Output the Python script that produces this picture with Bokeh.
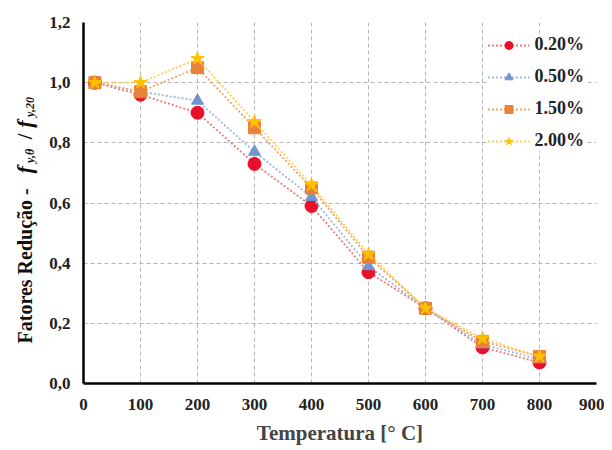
from bokeh.plotting import figure
from bokeh.layouts import row
from bokeh.models import Range1d, CustomJSTickFormatter, FixedTicker, Legend, LegendItem
from bokeh.core.properties import value
from bokeh.embed import file_html
from bokeh.resources import INLINE

temps = [20, 100, 200, 300, 400, 500, 600, 700, 800]
s020 = [1.00, 0.96, 0.90, 0.73, 0.59, 0.37, 0.25, 0.12, 0.07]
s050 = [1.00, 0.97, 0.94, 0.77, 0.62, 0.39, 0.25, 0.13, 0.08]
s150 = [1.00, 0.97, 1.05, 0.85, 0.65, 0.42, 0.25, 0.14, 0.09]
s200 = [1.00, 1.00, 1.08, 0.87, 0.66, 0.43, 0.25, 0.15, 0.09]
names = ["0.20%", "0.50%", "1.50%", "2.00%"]
x_ticks = [0, 100, 200, 300, 400, 500, 600, 700, 800, 900]
y_ticks = [0.0, 0.2, 0.4, 0.6, 0.8, 1.0, 1.2]

FONT = "'Liberation Serif', 'Times New Roman', serif"
LBL_W = 46

p = figure(width=604 - LBL_W, height=448, output_backend="svg", toolbar_location=None,
           x_range=Range1d(0, 900), y_range=Range1d(0, 1.2),
           min_border_left=83 - LBL_W, min_border_right=8, min_border_top=22, min_border_bottom=65)
p.outline_line_color = None

for ax in (p.xaxis[0], p.yaxis[0]):
    ax.axis_line_width = 2.5
    ax.axis_line_color = "black"
    ax.major_tick_line_color = None
    ax.minor_tick_line_color = None
    ax.major_label_text_font = FONT
    ax.major_label_text_font_style = "bold"
    ax.major_label_text_font_size = "17px"
    ax.major_label_text_color = "#222222"

p.xaxis.ticker = FixedTicker(ticks=x_ticks)
p.yaxis.ticker = FixedTicker(ticks=y_ticks)
p.yaxis.formatter = CustomJSTickFormatter(code="return tick.toFixed(1).replace('.', ',');")
p.xaxis.major_label_standoff = 9
p.yaxis.major_label_standoff = 7

p.xaxis.axis_label = "Temperatura [° C]"
p.xaxis.axis_label_text_font = FONT
p.xaxis.axis_label_text_font_style = "bold"
p.xaxis.axis_label_text_font_size = "21px"
p.xaxis.axis_label_standoff = 8

for g in (p.xgrid[0], p.ygrid[0]):
    g.grid_line_color = "#b5b5b5"
    g.grid_line_dash = "4 3"
    g.grid_line_width = 1

series = [s020, s050, s150, s200]
marker_cols = ["#e8102b", "#7096cc", "#e8823a", "#ffc000"]
line_cols = ["#ef7a7a", "#9fb6dd", "#f0a46a", "#ffd04d"]
markers = ["circle", "triangle", "square", "star"]
sizes = [13, 12, 12, 14]

items = []
for vals, mc, lc, mk, sz, nm in zip(series, marker_cols, line_cols, markers, sizes, names):
    r1 = p.line(temps, vals, line_color=lc, line_width=1.8, line_dash="2 2")
    r2 = p.scatter(temps, vals, marker=mk, size=sz, fill_color=mc, line_color=mc)
    items.append(LegendItem(label=nm, renderers=[r1, r2]))

legend = Legend(items=items, location="top_right")
legend.label_text_font = FONT
legend.label_text_font_style = "bold"
legend.label_text_font_size = "18px"
legend.label_text_color = "#222222"
legend.border_line_color = None
legend.background_fill_color = "white"
legend.background_fill_alpha = 1.0
legend.glyph_width = 42
legend.spacing = 11
legend.margin = 12
legend.padding = 17
p.add_layout(legend)

# narrow side panel holding the rotated y-axis title (mixed styles)
lp = figure(width=LBL_W, height=448, output_backend="svg", toolbar_location=None,
            x_range=Range1d(0, LBL_W), y_range=Range1d(0, 1.2),
            min_border_left=0, min_border_right=0, min_border_top=22, min_border_bottom=65)
lp.axis.visible = False
lp.grid.visible = False
lp.outline_line_color = None

title_parts = ["Fatores Redução - ", "f", "y,θ", "/", "f", "y,20"]
part_y = [0.133, 0.698, 0.733, 0.812, 0.850, 0.886]
part_size = ["20px", "22px", "12px", "20px", "22px", "12px"]
part_style = ["bold", "bold italic", "bold italic", "bold", "bold italic", "bold italic"]
part_dx = [0, 0, 5, 0, 0, 5]
base_x = 24
for t, yy, sz, st, dx in zip(title_parts, part_y, part_size, part_style, part_dx):
    lp.text(x=[base_x + dx], y=[yy], text=[t], angle=1.5707963,
            text_font=value(FONT), text_font_style=st, text_font_size=sz,
            text_align="left", text_baseline="middle", text_color="#111111")

layout = row(lp, p)
open("out.html", "w").write(file_html(layout, INLINE))
